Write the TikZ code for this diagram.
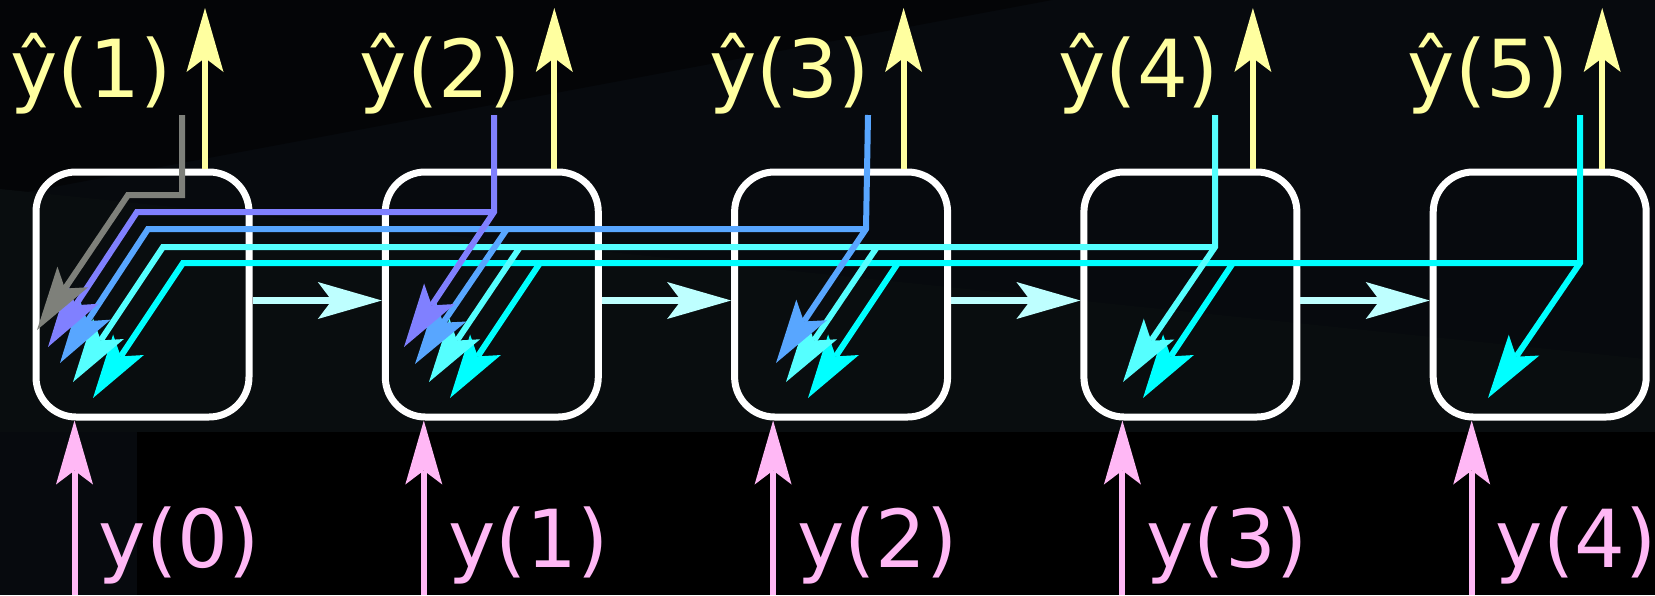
\documentclass[tikz,border=0pt]{standalone}
\usepackage{fontspec}
\setmainfont{DejaVu Sans}
\usetikzlibrary{arrows.meta}
\tikzset{>={Stealth[length=64pt,width=37pt,inset=14pt,line width=0pt]}}

\definecolor{bgmid}{RGB}{7,10,14}
\definecolor{bgtop}{RGB}{4,5,7}
\definecolor{bglow}{RGB}{9,13,15}
\definecolor{flowgray}{RGB}{126,128,122}
\definecolor{flowviolet}{RGB}{128,128,255}
\definecolor{flowblue}{RGB}{88,166,255}
\definecolor{flowaqua}{RGB}{85,255,255}
\definecolor{flowcyan}{RGB}{0,255,255}
\definecolor{statecyan}{RGB}{190,255,255}
\definecolor{outyellow}{RGB}{255,255,160}
\definecolor{inpink}{RGB}{255,184,245}

\begin{document}
\begin{tikzpicture}[x=1pt,y=-1pt,
  cell/.style={draw=white,line width=7pt,rounded corners=40pt,
    minimum width=213pt,minimum height=245pt,inner sep=0pt},
  lbl/.style={font=\fontsize{80}{80}\selectfont,inner sep=0pt}]

  \newcommand\X{349.3}
  \newcommand\Xo{142.5}
  \newcommand\Yo{294.5}

  % backdrop
  \fill[bgmid] (0,0) rectangle (1655,595);
  \fill[bgtop] (0,0) -- (1052,0) -- (0,197) -- cycle;
  \fill[bglow] (0,189) -- (1655,360) -- (1655,432) -- (0,432) -- cycle;
  \fill[black] (137,432) rectangle (1655,595);
  \useasboundingbox (0,0) rectangle (1655,595);

  % cells
  \foreach \i in {1,...,5}
    \node[cell] (c\i) at ({\Xo+(\i-1)*\X}, \Yo) {};

  % outputs and inputs
  \foreach \i in {1,...,5} {
    \pgfmathtruncatemacro\j{\i-1}
    \coordinate (out\i) at ({\Xo+(\i-1)*\X+62.5}, 8);
    \coordinate (in\i) at ({\Xo+(\i-1)*\X-68}, 595);
    \draw[->,outyellow,line width=6pt] (c\i.north -| out\i) -- (out\i);
    \draw[->,inpink,line width=6pt] (in\i) -- (c\i.south -| in\i);
    \node[lbl,outyellow,anchor=base east] (yhat\i) at ({\Xo+(\i-1)*\X+29}, 97) {ŷ(\i)};
    \node[lbl,inpink,anchor=base west] (y\j) at ({\Xo+(\i-1)*\X-44}, 567) {y(\j)};
  }

  % hidden state passed on
  \foreach \i [count=\j from 2] in {1,...,4}
    \draw[->,statecyan,line width=7pt] ([yshift=-6pt]c\i.east) -- ([yshift=-6pt]c\j.west);

  % errors running back from each output
  \begin{scope}[line width=6pt]
    \draw[->,flowcyan] (1580,115) -- (1580,263) -- ++(-92,135);
    \draw[->,flowcyan] (1580,263) -- (183,263) -- ++(-90,135);
    \foreach \x in {1233,898,540}
      \draw[->,flowcyan] (\x,263) -- ++(-90,135);

    \draw[->,flowaqua] (1215,115) -- (1215,247) -- ++(-92,135);
    \draw[->,flowaqua] (1215,247) -- (163,247) -- ++(-90,135);
    \foreach \x in {877,520}
      \draw[->,flowaqua] (\x,247) -- ++(-91,135);

    \draw[->,flowblue] (868,115) -- (866,229) -- ++(-90,134);
    \draw[->,flowblue] (866,229) -- (148,229) -- ++(-88,134);
    \draw[->,flowblue] (507,229) -- ++(-92,135);

    \draw[->,flowviolet] (494,115) -- (494,212) -- ++(-90,135);
    \draw[->,flowviolet] (494,212) -- (137,212) -- ++(-89,135);

    \draw[->,flowgray] (182,115) -- (182,195) -- (128,195) -- ++(-91,135);
  \end{scope}

\end{tikzpicture}
\end{document}
